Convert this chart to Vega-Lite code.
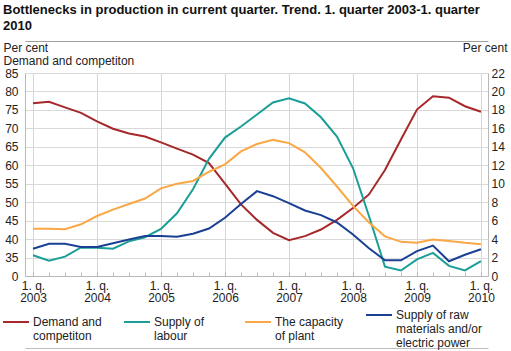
{
  "$schema": "https://vega.github.io/schema/vega-lite/v6.json",
  "width": 463,
  "height": 203,
  "autosize": {"type": "none"},
  "padding": {"left": 25, "top": 73, "right": 23, "bottom": 75},
  "background": "white",
  "title": {
    "text": ["Bottlenecks in production in current quarter. Trend. 1. quarter 2003-1. quarter", "2010"],
    "anchor": "start",
    "frame": "group",
    "dx": -22,
    "offset": 8,
    "font": "Liberation Sans",
    "fontSize": 13,
    "fontWeight": "bold",
    "color": "#111",
    "lineHeight": 16
  },
  "config": {
    "view": {"stroke": null},
    "font": "Liberation Sans",
    "axis": {
      "labelFont": "Liberation Sans",
      "labelFontSize": 12,
      "labelColor": "#222",
      "titleFont": "Liberation Sans",
      "titleFontSize": 12,
      "titleFontWeight": "normal",
      "titleColor": "#222"
    }
  },
  "data": {
    "values": [
      {"t": 2003, "Demand and competiton": 76.8, "Supply of labour": 2.25, "The capacity of plant": 5.12, "Supply of raw materials and/or electric power": 2.96},
      {"t": 2003.25, "Demand and competiton": 77.2, "Supply of labour": 1.65, "The capacity of plant": 5.12, "Supply of raw materials and/or electric power": 3.5},
      {"t": 2003.5, "Demand and competiton": 75.7, "Supply of labour": 2.1, "The capacity of plant": 5.07, "Supply of raw materials and/or electric power": 3.5},
      {"t": 2003.75, "Demand and competiton": 74.2, "Supply of labour": 3.1, "The capacity of plant": 5.6, "Supply of raw materials and/or electric power": 3.14},
      {"t": 2004, "Demand and competiton": 71.9, "Supply of labour": 3.05, "The capacity of plant": 6.5, "Supply of raw materials and/or electric power": 3.14},
      {"t": 2004.25, "Demand and competiton": 69.9, "Supply of labour": 2.95, "The capacity of plant": 7.2, "Supply of raw materials and/or electric power": 3.55},
      {"t": 2004.5, "Demand and competiton": 68.6, "Supply of labour": 3.75, "The capacity of plant": 7.8, "Supply of raw materials and/or electric power": 3.95},
      {"t": 2004.75, "Demand and competiton": 67.8, "Supply of labour": 4.2, "The capacity of plant": 8.4, "Supply of raw materials and/or electric power": 4.33},
      {"t": 2005, "Demand and competiton": 66.2, "Supply of labour": 5.1, "The capacity of plant": 9.5, "Supply of raw materials and/or electric power": 4.33},
      {"t": 2005.25, "Demand and competiton": 64.5, "Supply of labour": 6.8, "The capacity of plant": 10.0, "Supply of raw materials and/or electric power": 4.25},
      {"t": 2005.5, "Demand and competiton": 62.9, "Supply of labour": 9.4, "The capacity of plant": 10.3, "Supply of raw materials and/or electric power": 4.58},
      {"t": 2005.75, "Demand and competiton": 60.6, "Supply of labour": 12.7, "The capacity of plant": 11.3, "Supply of raw materials and/or electric power": 5.15},
      {"t": 2006, "Demand and competiton": 55.0, "Supply of labour": 15.0, "The capacity of plant": 12.1, "Supply of raw materials and/or electric power": 6.31},
      {"t": 2006.25, "Demand and competiton": 49.4, "Supply of labour": 16.2, "The capacity of plant": 13.5, "Supply of raw materials and/or electric power": 7.8},
      {"t": 2006.5, "Demand and competiton": 45.2, "Supply of labour": 17.5, "The capacity of plant": 14.3, "Supply of raw materials and/or electric power": 9.2},
      {"t": 2006.75, "Demand and competiton": 41.7, "Supply of labour": 18.8, "The capacity of plant": 14.75, "Supply of raw materials and/or electric power": 8.65},
      {"t": 2007, "Demand and competiton": 39.7, "Supply of labour": 19.25, "The capacity of plant": 14.4, "Supply of raw materials and/or electric power": 7.9},
      {"t": 2007.25, "Demand and competiton": 40.8, "Supply of labour": 18.7, "The capacity of plant": 13.4, "Supply of raw materials and/or electric power": 7.1},
      {"t": 2007.5, "Demand and competiton": 42.6, "Supply of labour": 17.2, "The capacity of plant": 11.7, "Supply of raw materials and/or electric power": 6.6},
      {"t": 2007.75, "Demand and competiton": 45.2, "Supply of labour": 15.1, "The capacity of plant": 9.7, "Supply of raw materials and/or electric power": 5.8},
      {"t": 2008, "Demand and competiton": 48.4, "Supply of labour": 11.7, "The capacity of plant": 7.6, "Supply of raw materials and/or electric power": 4.5},
      {"t": 2008.25, "Demand and competiton": 52.1, "Supply of labour": 6.5, "The capacity of plant": 5.8, "Supply of raw materials and/or electric power": 3.0},
      {"t": 2008.5, "Demand and competiton": 58.7, "Supply of labour": 1.0, "The capacity of plant": 4.3, "Supply of raw materials and/or electric power": 1.7},
      {"t": 2008.75, "Demand and competiton": 67.0, "Supply of labour": 0.6, "The capacity of plant": 3.7, "Supply of raw materials and/or electric power": 1.7},
      {"t": 2009, "Demand and competiton": 75.1, "Supply of labour": 1.8, "The capacity of plant": 3.6, "Supply of raw materials and/or electric power": 2.7},
      {"t": 2009.25, "Demand and competiton": 78.7, "Supply of labour": 2.5, "The capacity of plant": 3.95, "Supply of raw materials and/or electric power": 3.3},
      {"t": 2009.5, "Demand and competiton": 78.3, "Supply of labour": 1.1, "The capacity of plant": 3.8, "Supply of raw materials and/or electric power": 1.6},
      {"t": 2009.75, "Demand and competiton": 76.0, "Supply of labour": 0.6, "The capacity of plant": 3.6, "Supply of raw materials and/or electric power": 2.3},
      {"t": 2010, "Demand and competiton": 74.5, "Supply of labour": 1.6, "The capacity of plant": 3.45, "Supply of raw materials and/or electric power": 2.9}
    ]
  },
  "transform": [
    {"fold": ["Demand and competiton", "Supply of labour", "The capacity of plant", "Supply of raw materials and/or electric power"], "as": ["series", "value"]}
  ],
  "encoding": {
    "color": {
      "field": "series",
      "type": "nominal",
      "scale": {
        "domain": ["Demand and competiton", "Supply of labour", "The capacity of plant", "Supply of raw materials and/or electric power"],
        "range": ["#a6282a", "#1a9e97", "#f9a845", "#1b3f93"]
      },
      "legend": {
        "title": null,
        "orient": "none",
        "legendX": -23,
        "legendY": 228,
        "direction": "horizontal",
        "columns": 4,
        "gridAlign": "all",
        "columnPadding": 0,
        "padding": 0,
        "symbolType": "stroke",
        "symbolSize": 676,
        "symbolStrokeWidth": 2,
        "labelFont": "Liberation Sans",
        "labelFontSize": 12,
        "labelColor": "#222",
        "labelOffset": 3,
        "labelLineHeight": 12,
        "labelLimit": 200,
        "labelExpr": "datum.label === 'Demand and competiton' ? ['Demand and', 'competiton'] : datum.label === 'Supply of labour' ? ['Supply of', 'labour'] : datum.label === 'The capacity of plant' ? ['The capacity', 'of plant'] : ['Supply of raw', 'materials and/or', 'electric power']"
      }
    }
  },
  "layer": [
    {
      "transform": [{"filter": "datum.series === 'Demand and competiton'"}],
      "mark": {"type": "line", "strokeWidth": 2},
      "encoding": {
        "x": {
          "field": "t",
          "type": "quantitative",
          "scale": {"domain": [2002.875, 2010.11], "nice": false, "zero": false},
          "axis": {
            "orient": "bottom",
            "title": null,
            "values": [2003, 2003.25, 2003.5, 2003.75, 2004, 2004.25, 2004.5, 2004.75, 2005, 2005.25, 2005.5, 2005.75, 2006, 2006.25, 2006.5, 2006.75, 2007, 2007.25, 2007.5, 2007.75, 2008, 2008.25, 2008.5, 2008.75, 2009, 2009.25, 2009.5, 2009.75, 2010],
            "labelExpr": "datum.value % 1 === 0 ? ['1. q.', format(datum.value, 'd')] : ''",
            "labelOverlap": false,
            "labelFlush": false,
            "labelBaseline": "top",
            "labelLineHeight": 12,
            "labelPadding": 8,
            "grid": true,
            "gridColor": {"condition": {"test": "datum.value % 1 === 0", "value": "#d6d6d6"}, "value": "transparent"},
            "ticks": true,
            "tickSize": -4,
            "tickColor": "#b8b8b8",
            "domainColor": "#b8b8b8"
          }
        },
        "y": {
          "field": "value",
          "type": "quantitative",
          "scale": {"domain": [30, 85], "nice": false, "zero": false},
          "axis": {
            "orient": "left",
            "values": [30, 35, 40, 45, 50, 55, 60, 65, 70, 75, 80, 85],
            "labelExpr": "datum.value === 30 ? '0' : datum.label",
            "grid": false,
            "ticks": false,
            "domainColor": "#b8b8b8",
            "labelPadding": 7,
            "title": ["Per cent", "Demand and competiton"],
            "titleAngle": 0,
            "titleAlign": "left",
            "titleBaseline": "top",
            "titleX": -22,
            "titleY": -31,
            "titleLineHeight": 13
          }
        }
      }
    },
    {
      "transform": [{"filter": "datum.series !== 'Demand and competiton'"}],
      "mark": {"type": "line", "strokeWidth": 2},
      "encoding": {
        "x": {
          "field": "t",
          "type": "quantitative",
          "scale": {"domain": [2002.875, 2010.11], "nice": false, "zero": false},
          "axis": {
            "orient": "top",
            "offset": 32,
            "title": null,
            "labels": false,
            "ticks": false,
            "grid": false,
            "domainColor": "#a0a0a0"
          }
        },
        "y": {
          "field": "value",
          "type": "quantitative",
          "scale": {"domain": [0, 22], "nice": false, "zero": false},
          "axis": {
            "orient": "right",
            "values": [0, 2, 4, 6, 8, 10, 12, 14, 16, 18, 20, 22],
            "grid": true,
            "gridColor": "#d9d9d9",
            "ticks": false,
            "domainColor": "#b8b8b8",
            "labelPadding": 3,
            "title": "Per cent",
            "titleAngle": 0,
            "titleAlign": "right",
            "titleBaseline": "top",
            "titleX": 19,
            "titleY": -31
          }
        }
      }
    },
    {
      "transform": [{"filter": "datum.series === 'Demand and competiton'"}],
      "mark": {"type": "line", "opacity": 0},
      "encoding": {
        "x": {
          "field": "t",
          "type": "quantitative",
          "scale": {"domain": [2002.875, 2010.11], "nice": false, "zero": false},
          "axis": {
            "orient": "bottom",
            "offset": 72,
            "title": null,
            "labels": false,
            "ticks": false,
            "grid": false,
            "domainColor": "#bdbdbd"
          }
        },
        "y": {
          "field": "value",
          "type": "quantitative",
          "scale": {"domain": [30, 85], "nice": false, "zero": false},
          "axis": null
        }
      }
    }
  ],
  "resolve": {"scale": {"x": "independent", "y": "independent"}, "axis": {"y": "independent", "x": "independent"}}
}
